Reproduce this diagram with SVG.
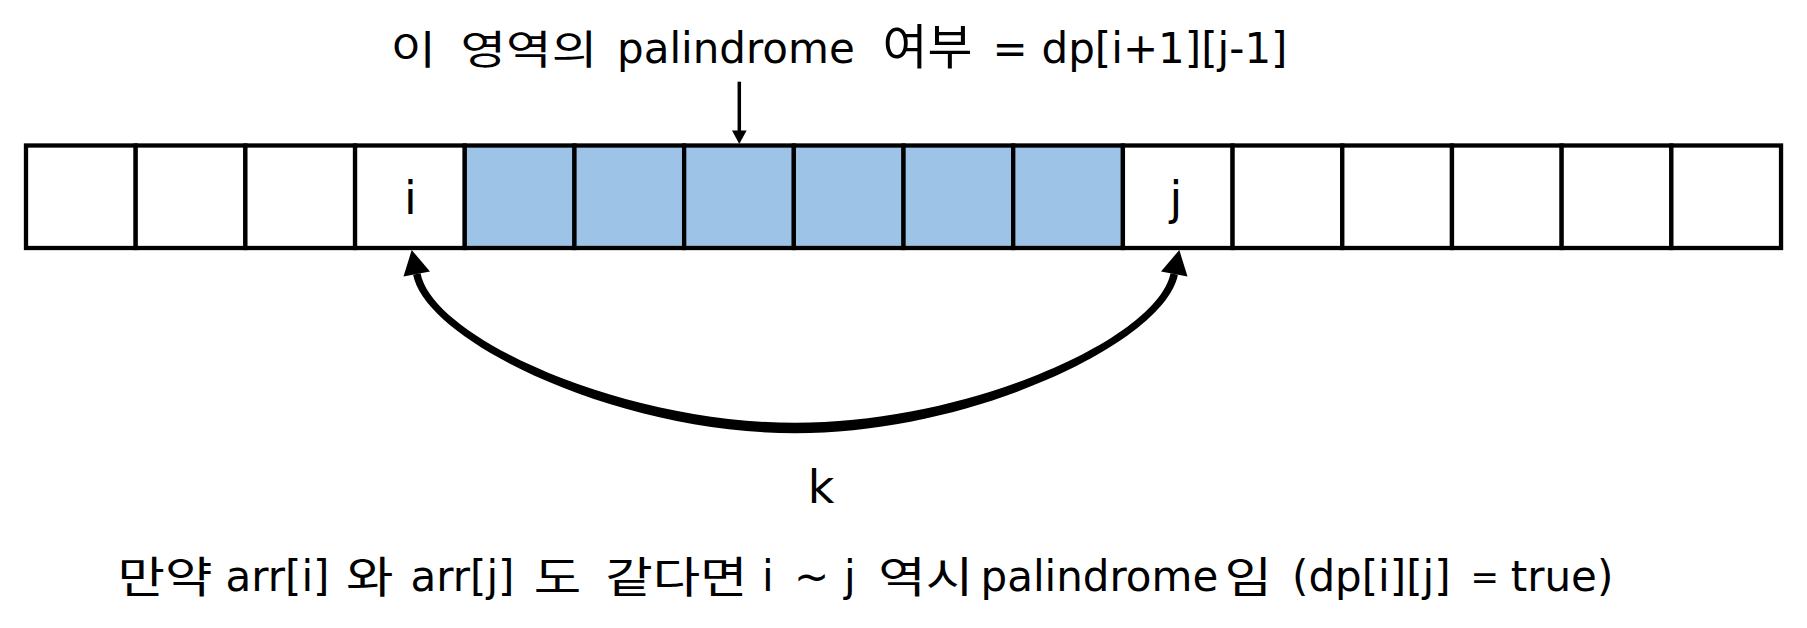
<svg xmlns="http://www.w3.org/2000/svg" width="1807" height="628" viewBox="0 0 1807 628">
<style>
.cell{stroke:#000;stroke-width:4.3;fill:#fff}
.hl{fill:#9DC3E6}
.t{font-family:"DejaVu Sans",sans-serif;font-size:42px;fill:#000}
.ko{font-family:"Noto Sans CJK KR",sans-serif;font-size:40px;fill:#000}
.kob{font-family:"Noto Sans CJK KR",sans-serif;font-size:43px;fill:#000}
.ko2{font-family:"Noto Sans CJK KR",sans-serif;font-size:48px;fill:#000}
.lbl{font-family:"DejaVu Sans",sans-serif;font-size:46px;text-anchor:middle;fill:#000}
.ah{fill:#000;stroke:none}
.shaft{stroke:#000;stroke-width:3.5;fill:none}
</style>
<rect width="1807" height="628" fill="#fff"/>
<g id="cells">
<g id="cell-0"><rect class="cell" x="26" y="145.5" width="109.69" height="102.5"/></g>
<g id="cell-1"><rect class="cell" x="135.69" y="145.5" width="109.69" height="102.5"/></g>
<g id="cell-2"><rect class="cell" x="245.38" y="145.5" width="109.69" height="102.5"/></g>
<g id="cell-3"><rect class="cell" x="355.07" y="145.5" width="109.69" height="102.5"/><text class="lbl" x="410.5" y="214">i</text></g>
<g id="cell-4"><rect class="cell hl" x="464.76" y="145.5" width="109.69" height="102.5"/></g>
<g id="cell-5"><rect class="cell hl" x="574.45" y="145.5" width="109.69" height="102.5"/></g>
<g id="cell-6"><rect class="cell hl" x="684.14" y="145.5" width="109.69" height="102.5"/></g>
<g id="cell-7"><rect class="cell hl" x="793.83" y="145.5" width="109.69" height="102.5"/></g>
<g id="cell-8"><rect class="cell hl" x="903.52" y="145.5" width="109.69" height="102.5"/></g>
<g id="cell-9"><rect class="cell hl" x="1013.21" y="145.5" width="109.69" height="102.5"/></g>
<g id="cell-10"><rect class="cell" x="1122.9" y="145.5" width="109.69" height="102.5"/><text class="lbl" x="1176" y="214">j</text></g>
<g id="cell-11"><rect class="cell" x="1232.59" y="145.5" width="109.69" height="102.5"/></g>
<g id="cell-12"><rect class="cell" x="1342.28" y="145.5" width="109.69" height="102.5"/></g>
<g id="cell-13"><rect class="cell" x="1451.97" y="145.5" width="109.69" height="102.5"/></g>
<g id="cell-14"><rect class="cell" x="1561.66" y="145.5" width="109.69" height="102.5"/></g>
<g id="cell-15"><rect class="cell" x="1671.35" y="145.5" width="109.69" height="102.5"/></g>
</g>
<g id="label-top">
<text class="ko" transform="translate(390.5,64) scale(1.24,1)">이</text>
<text class="ko" transform="translate(460.5,64) scale(1.24,1)">영역의</text>
<text class="t" x="617" y="63.3">palindrome</text>
<text class="ko2" transform="translate(882.5,64) scale(1.02,1)">여부</text>
<text class="t" x="992.5" y="63.3">=</text>
<text class="t" x="1041.5" y="63.3">dp[i+1][j-1]</text>
</g>
<g id="label-k"><text class="lbl" x="821" y="503">k</text></g>
<g id="label-bottom">
<text class="kob" transform="translate(117.5,593) scale(1.2,1)">만약</text>
<text class="t" x="225.5" y="591">arr[i]</text>
<text class="kob" transform="translate(346,593) scale(1.2,1)">와</text>
<text class="t" x="410.5" y="591">arr[j]</text>
<text class="kob" transform="translate(533.7,593) scale(1.2,1)">도</text>
<text class="kob" transform="translate(605.2,593) scale(1.2,1)">같다면</text>
<text class="t" x="762" y="591">i</text>
<text class="t" x="794" y="591">~</text>
<text class="t" x="844" y="591">j</text>
<text class="kob" transform="translate(878.2,593) scale(1.2,1)">역시</text>
<text class="t" x="980.5" y="591">palindrome</text>
<text class="kob" transform="translate(1224.5,593) scale(1.2,1)">임</text>
<text class="t" x="1292" y="591">(dp[i][j]</text>
<text class="t" x="1470.6" y="588.5" style="font-size:34px">=</text>
<text class="t" x="1510.7" y="591">true)</text>
</g>
<g id="connectors">
<line class="shaft" x1="739.3" y1="81.7" x2="739.3" y2="132"/>
<polygon class="ah" points="739.3,144 732,130.5 746.6,130.5"/>
<path class="ah" d="M413.1,274.8 C426.1,342 618,433.2 795.5,433.2 C973,433.2 1164.9,342 1177.9,274.8 L1170.5,273.2 C1157.5,338.5 969,422.8 795.5,422.8 C622,422.8 433.5,338.5 420.5,273.2 Z"/>
<polygon class="ah" points="411.7,250 430,271.5 403.5,276.5"/>
<polygon class="ah" points="1179.3,250 1161,271.5 1187.5,276.5"/>
</g>
</svg>
